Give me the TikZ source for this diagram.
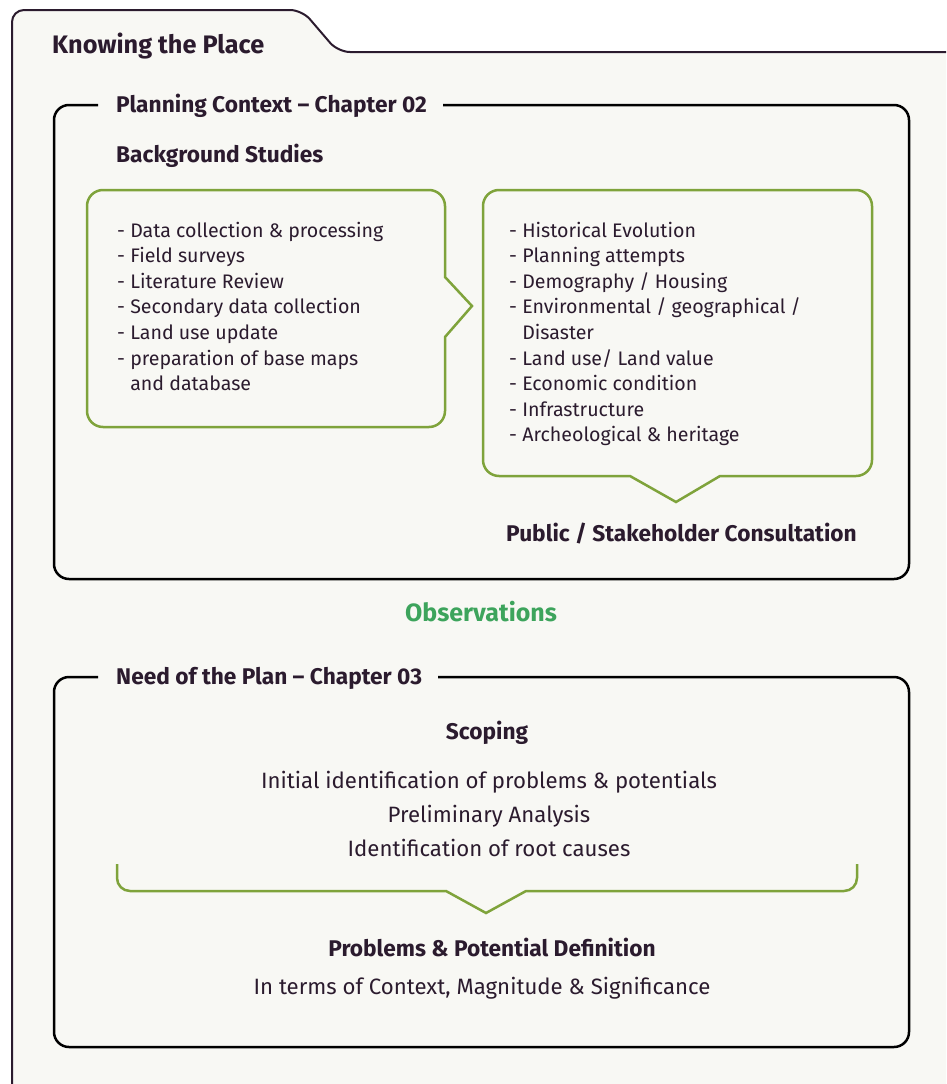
\documentclass[tikz,border=0pt]{standalone}
\usepackage{fontspec}
\setmainfont{Fira Sans}
\definecolor{ink}{HTML}{2B1B2E}
\definecolor{leaf}{HTML}{7FA33B}
\definecolor{obs}{HTML}{3DA45C}
\definecolor{paper}{HTML}{F8F8F4}
\begin{document}
\begin{tikzpicture}[x=1pt,y=-1pt,
  txt/.style={inner sep=0pt, text=ink, font=\fontsize{19.6}{23}\selectfont, anchor=base west},
  ctxt/.style={txt, font=\fontsize{22.2}{26}\selectfont, anchor=base},
  head/.style={inner sep=0pt, text=ink, font=\fontsize{22.7}{27}\selectfont\bfseries, anchor=base west},
  chead/.style={head, anchor=base},
  frame/.style={draw=ink, line width=2pt},
  panel/.style={draw=black, line width=2.5pt},
  bubble/.style={draw=leaf, line width=2.5pt, line join=miter},
]
\useasboundingbox (0,0) rectangle (946,1084);
\fill[white] (0,0) rectangle (946,1084);
\clip (0,0) rectangle (946,1084);
% outer folder frame
\fill[paper, rounded corners=12] (12,1100) -- (12,10) -- (302,10) -- (338,52) -- (960,52) -- (960,1100) -- cycle;
\draw[frame, rounded corners=12] (12,1100) -- (12,10) -- (302,10) -- (338,52) -- (960,52);
\node[head, font=\fontsize{25.3}{30}\selectfont\bfseries] (title) at (52,53) {Knowing the Place};

% panel 1
\draw[panel, rounded corners=15] (98,105) -- (54,105) -- (54,579) -- (909,579) -- (909,105) -- (443,105);
\node[head] (ctx) at (116,112) {Planning Context – Chapter 02};
\node[head] (bg) at (116,162) {Background Studies};

% left bubble with right-pointing notch
\draw[bubble] (250,190) [rounded corners=16] -- (445,190) [sharp corners] -- (445,277) -- (472,306) -- (445,337) [rounded corners=16] -- (445,427) -- (87,427) -- (87,190) -- cycle;
\foreach \t [count=\i] in {- Data collection \& processing, - Field surveys, - Literature Review, - Secondary data collection, - Land use update, - preparation of base maps, \phantom{- }and database}
  \node[txt] (L\i) at (117,{237+25.6*(\i-1)}) {\t};

% right bubble with downward notch
\draw[bubble] (600,190) [rounded corners=16] -- (872,190) -- (872,476) [sharp corners] -- (720,476) -- (676,502) -- (630,476) [rounded corners=16] -- (483,476) -- (483,190) -- cycle;
\foreach \t [count=\i] in {- Historical Evolution, - Planning attempts, - Demography / Housing, - Environmental / geographical /, \phantom{- }Disaster, - Land use/ Land value, - Economic condition, - Infrastructure, - Archeological \& heritage}
  \node[txt] (R\i) at (509,{237+25.6*(\i-1)}) {\t};

\node[head] (pub) at (506,541) {Public / Stakeholder Consultation};

\node[chead, text=obs, font=\fontsize{25}{30}\selectfont\bfseries] (obs) at (481,621) {Observations};

% panel 2
\draw[panel, rounded corners=15] (98,677) -- (54,677) -- (54,1047) -- (909,1047) -- (909,677) -- (438,677);
\node[head] (need) at (116,684) {Need of the Plan – Chapter 03};
\node[chead] (scope) at (487,739) {Scoping};
\node[ctxt] (s1) at (489,788) {Initial identification of problems \& potentials};
\node[ctxt] (s2) at (489,822) {Preliminary Analysis};
\node[ctxt] (s3) at (489,856) {Identification of root causes};

\draw[bubble] (117,864) [rounded corners=13] -- (117,891) [sharp corners] -- (446,891) -- (486,913) -- (526,891) [rounded corners=13] -- (857,891) -- (857,864);

\node[chead] (prob) at (492,956) {Problems \& Potential Definition};
\node[ctxt] (terms) at (482,994) {In terms of Context, Magnitude \& Significance};
\end{tikzpicture}
\end{document}
